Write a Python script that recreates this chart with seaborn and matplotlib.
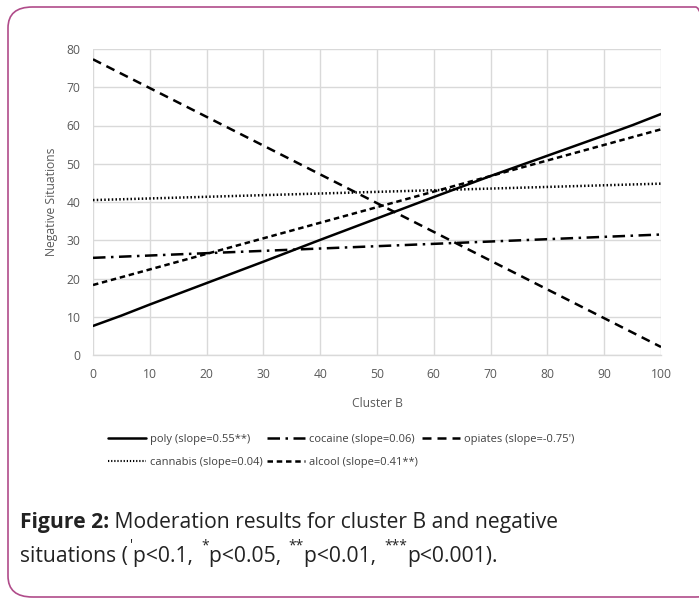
import matplotlib
matplotlib.use("Agg")
import matplotlib.pyplot as plt
import seaborn as sns
import pandas as pd
from matplotlib.patches import FancyBboxPatch

# ---- data ----
x_poly = [0, 5, 10, 20, 30, 40, 50, 60, 70, 80, 90, 95, 100]
poly = [7.6, 10.3, 13.2, 18.8, 24.4, 30.1, 35.7, 41.3, 46.8, 52.1, 57.4, 60.1, 63.0]
x_line = [0, 100]
cocaine = [25.4, 31.5]
opiates = [77.3, 2.1]
cannabis = [40.5, 44.8]
alcool = [18.3, 59.0]

labels = {
    "poly": "poly (slope=0.55**)",
    "cocaine": "cocaine (slope=0.06)",
    "opiates": "opiates (slope=-0.75')",
    "cannabis": "cannabis (slope=0.04)",
    "alcool": "alcool (slope=0.41**)",
}
x_ticks = [0, 10, 20, 30, 40, 50, 60, 70, 80, 90, 100]
y_ticks = [0, 10, 20, 30, 40, 50, 60, 70, 80]

rows = []
for xv, yv in zip(x_poly, poly):
    rows.append(("poly", xv, yv))
for name, vals in [("cocaine", cocaine), ("opiates", opiates),
                   ("cannabis", cannabis), ("alcool", alcool)]:
    for xv, yv in zip(x_line, vals):
        rows.append((name, xv, yv))
df = pd.DataFrame(rows, columns=["series", "x", "y"])
df["label"] = df["series"].map(labels)

sns.set_theme(style="white")
plt.rcParams["font.family"] = ["Open Sans", "DejaVu Sans"]

fig = plt.figure(figsize=(6.99, 5.99), dpi=100)
ax = fig.add_axes([93 / 699, 1 - 355 / 599, (661 - 93) / 699, (355 - 49) / 599])

order = [labels[k] for k in ["poly", "cannabis", "cocaine", "alcool", "opiates"]]
dashes = {
    labels["poly"]: "",
    labels["cocaine"]: (5, 2.2, 1, 2.2),
    labels["opiates"]: (3.6, 2.4),
    labels["cannabis"]: (0.6, 0.9),
    labels["alcool"]: (2.2, 1.5),
}
sns.lineplot(data=df, x="x", y="y", hue="label", style="label",
             hue_order=order, style_order=order,
             palette={l: "black" for l in order}, dashes=dashes,
             linewidth=1.8, ax=ax, legend=True, sort=False)
for line in ax.get_lines():
    if line.get_label() == labels["cannabis"]:
        line.set_linewidth(1.5)

ax.set_xlim(0, 100)
ax.set_ylim(0, 80)
ax.set_xticks(x_ticks)
ax.set_yticks(y_ticks)
ax.grid(True, color="#d9d9d9", linewidth=1)
for s in ["top", "right", "left"]:
    ax.spines[s].set_visible(False)
ax.spines["bottom"].set_color("#d9d9d9")
ax.spines["bottom"].set_linewidth(1)
ax.tick_params(axis="both", colors="#595959", labelsize=8.7, length=0, pad=9)
ax.set_xlabel("Cluster B", fontsize=8.7, color="#595959", labelpad=12)
ax.set_ylabel("Negative Situations", fontsize=8.7, color="#595959", labelpad=6)

handles, labs = ax.get_legend_handles_labels()
hmap = dict(zip(labs, handles))
ax.legend([hmap[l] for l in order], order, ncol=3, loc="upper left",
          bbox_to_anchor=(98 / 699, 1 - 424 / 599), bbox_transform=fig.transFigure,
          frameon=False, fontsize=8.0, handlelength=3.4, handletextpad=0.35,
          columnspacing=0.4, labelspacing=1.05, labelcolor="#404040")

# caption
FS = 15.2
CCOL = "#222222"
t1 = fig.text(20 / 699, 1 - 528 / 599, "Figure 2:", fontweight="bold",
              fontsize=FS, color=CCOL, va="baseline")
ax.annotate(" Moderation results for cluster B and negative", xy=(1, 0),
            xycoords=t1, va="bottom", ha="left", fontsize=FS, color=CCOL,
            annotation_clip=False)

y2 = 1 - 562 / 599
s1 = fig.text(20 / 699, y2, "situations (", fontsize=FS, color=CCOL, va="baseline")
parts = [("'", "p<0.1, "), ("*", "p<0.05, "), ("**", "p<0.01, "), ("***", "p<0.001).")]
prev = s1
for sup, body in parts:
    a = ax.annotate(sup, xy=(1, 0), xycoords=prev, xytext=(1.5, 10),
                    textcoords="offset points", fontsize=10, color=CCOL,
                    va="bottom", ha="left", annotation_clip=False)
    b = ax.annotate(body, xy=(1, 0), xycoords=a, xytext=(0.3, -10),
                    textcoords="offset points", fontsize=FS, color=CCOL,
                    va="bottom", ha="left", annotation_clip=False)
    prev = b

box = FancyBboxPatch((8 / 699, 2 / 599), (720 - 8) / 699, (590) / 599,
                     boxstyle="round,pad=0,rounding_size=0.035",
                     transform=fig.transFigure, fill=False,
                     edgecolor="#b04c8a", linewidth=1.2, clip_on=False)
fig.patches.append(box)

fig.savefig("out.png", dpi=100)
